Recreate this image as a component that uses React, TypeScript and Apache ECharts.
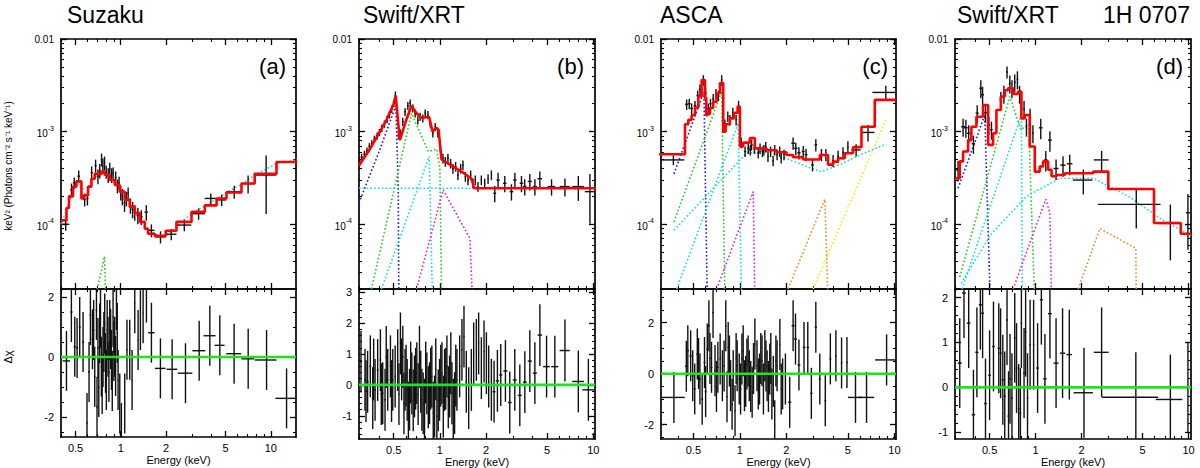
import React, { useEffect, useRef } from "react";
import * as echarts from "echarts";

const FONT = "'Liberation Sans', Arial, Helvetica, sans-serif";

// ---------- tick values ----------
const energyLabels = [0.5, 1, 2, 5, 10];
const energyMinor = [0.3, 0.4, 0.6, 0.7, 0.8, 0.9, 3, 4, 6, 7, 8, 9];
const fluxLabels = [1e-4, 1e-3, 1e-2];
const fluxMinor = [
  2e-5, 3e-5, 4e-5, 5e-5, 6e-5, 7e-5, 8e-5, 9e-5,
  2e-4, 3e-4, 4e-4, 5e-4, 6e-4, 7e-4, 8e-4, 9e-4,
  2e-3, 3e-3, 4e-3, 5e-3, 6e-3, 7e-3, 8e-3, 9e-3,
];
const aResLabels = [-2, 0, 2];
const aResMinor = [-2.5, -1.5, -1, -0.5, 0.5, 1, 1.5];
const bResLabels = [-1, 0, 1, 2, 3];
const bResMinor = [-1.6, -1.4, -1.2, -0.8, -0.6, -0.4, -0.2, 0.2, 0.4, 0.6, 0.8, 1.2, 1.4, 1.6, 1.8, 2.2, 2.4, 2.6, 2.8];
const cResLabels = [-2, 0, 2];
const cResMinor = [-2.5, -1.5, -1, -0.5, 0.5, 1, 1.5, 2.5, 3];
const dResLabels = [-1, 0, 1, 2];
const dResMinor = [-0.8, -0.6, -0.4, -0.2, 0.2, 0.4, 0.6, 0.8, 1.2, 1.4, 1.6, 1.8];

// ---------- (a) Suzaku ----------
const aEnergy = [0.43, 0.47, 0.49, 0.525, 0.575, 0.6, 0.64, 0.68, 0.705, 0.725, 0.745, 0.76, 0.78, 0.8, 0.825, 0.845, 0.87, 0.89, 0.925, 0.95, 0.975, 1.0, 1.025, 1.06, 1.09, 1.12, 1.16, 1.2, 1.24, 1.3, 1.37, 1.48, 1.6, 1.84, 2.17, 2.65, 3.3, 3.98, 4.7, 5.7, 7.05, 9.3];
const aHalfWidth = [0.025, 0.01, 0.01, 0.01, 0.01, 0.01, 0.01, 0.01, 0.008, 0.008, 0.008, 0.008, 0.008, 0.008, 0.01, 0.01, 0.01, 0.01, 0.012, 0.012, 0.012, 0.012, 0.012, 0.015, 0.015, 0.015, 0.015, 0.02, 0.02, 0.025, 0.03, 0.04, 0.08, 0.15, 0.18, 0.3, 0.33, 0.36, 0.35, 0.65, 0.7, 1.55];
const aFlux = [1.0e-4, 2.35e-4, 2.8e-4, 3.3e-4, 1.85e-4, 1.9e-4, 3.6e-4, 4.3e-4, 3.3e-4, 3.8e-4, 5.0e-4, 4.3e-4, 4.6e-4, 3.7e-4, 3.4e-4, 4.0e-4, 3.4e-4, 3.6e-4, 3.2e-4, 2.6e-4, 2.8e-4, 2.2e-4, 2.0e-4, 1.7e-4, 1.9e-4, 2.15e-4, 1.6e-4, 1.45e-4, 1.35e-4, 1.25e-4, 1.2e-4, 1.35e-4, 8.6e-5, 7.3e-5, 7.8e-5, 9.8e-5, 1.3e-4, 1.9e-4, 1.83e-4, 2.25e-4, 2.75e-4, 3.4e-4];
const aFluxRelErr = [0.15, 0.17, 0.14, 0.15, 0.16, 0.16, 0.17, 0.16, 0.18, 0.18, 0.16, 0.19, 0.17, 0.16, 0.18, 0.15, 0.18, 0.14, 0.16, 0.17, 0.16, 0.18, 0.2, 0.2, 0.18, 0.16, 0.19, 0.2, 0.19, 0.2, 0.18, 0.19, 0.16, 0.15, 0.14, 0.14, 0.14, 0.13, 0.14, 0.16, 0.22, 0.62];
const aModelEdges = [0.4, 0.435, 0.452, 0.481, 0.506, 0.547, 0.567, 0.606, 0.638, 0.671, 0.744, 0.782, 0.845, 0.912, 0.985, 1.063, 1.148, 1.24, 1.34, 1.446, 1.52, 1.685, 1.995, 2.35, 2.96, 3.63, 4.35, 5.06, 6.37, 7.8, 10.9, 15];
const aModelFlux = [1.1e-4, 1.5e-4, 2.0e-4, 2.55e-4, 2.9e-4, 1.9e-4, 2.05e-4, 2.55e-4, 3.1e-4, 3.5e-4, 3.7e-4, 3.4e-4, 3.0e-4, 2.65e-4, 2.25e-4, 1.83e-4, 1.55e-4, 1.32e-4, 1.06e-4, 8.95e-5, 7.9e-5, 7.5e-5, 8.5e-5, 1.06e-4, 1.36e-4, 1.6e-4, 1.9e-4, 2.2e-4, 2.75e-4, 3.5e-4, 4.7e-4];
const aCyan = [[0.4, 1.0e-4], [0.44, 1.5e-4], [0.48, 2.3e-4], [0.52, 2.8e-4], [0.55, 2.4e-4], [0.6, 2.4e-4], [0.65, 3.0e-4], [0.72, 3.5e-4], [0.78, 3.6e-4], [0.85, 3.2e-4], [0.95, 2.5e-4], [1.05, 2.0e-4], [1.2, 1.5e-4], [1.4, 1.05e-4], [1.6, 8.2e-5], [1.85, 7.4e-5], [2.1, 8.0e-5], [2.35, 9.5e-5], [2.96, 1.3e-4], [3.63, 1.58e-4], [4.35, 1.88e-4], [5.06, 2.2e-4], [6.37, 2.7e-4], [7.8, 3.4e-4], [10.9, 4.5e-4], [15, 5.0e-4]];
const aGreen = [[0.67, 1.5e-5], [0.78, 4.5e-5], [0.795, 1.5e-5]];
const aResEnergy = [0.435, 0.469, 0.494, 0.512, 0.533, 0.561, 0.596, 0.615, 0.628, 0.648, 0.66, 0.671, 0.689, 0.695, 0.705, 0.714, 0.724, 0.733, 0.743, 0.752, 0.762, 0.772, 0.782, 0.792, 0.802, 0.812, 0.823, 0.834, 0.845, 0.856, 0.867, 0.878, 0.889, 0.9, 0.912, 0.924, 0.936, 0.948, 0.96, 0.985, 1.01, 1.063, 1.1, 1.148, 1.19, 1.24, 1.305, 1.352, 1.409, 1.483, 1.601, 1.838, 2.199, 2.699, 3.33, 3.92, 4.57, 5.69, 7.06, 9.36, 12.72];
const aResHalfWidth = [0.025, 0.008, 0.008, 0.008, 0.008, 0.008, 0.008, 0.008, 0.008, 0.008, 0.008, 0.008, 0.008, 0.008, 0.008, 0.008, 0.008, 0.008, 0.008, 0.008, 0.008, 0.008, 0.008, 0.008, 0.008, 0.008, 0.008, 0.008, 0.008, 0.008, 0.008, 0.008, 0.008, 0.008, 0.008, 0.008, 0.008, 0.008, 0.008, 0.008, 0.008, 0.008, 0.008, 0.008, 0.008, 0.008, 0.008, 0.008, 0.008, 0.008, 0.08, 0.15, 0.18, 0.3, 0.33, 0.36, 0.35, 0.65, 0.7, 1.55, 2.0];
const aResidual = [-0.13, 1.5, 0.34, 0.3, 1.0, 0.5, -2.2, -0.5, 1.4, 0.59, 0.9, -0.66, 1.57, -1.66, 0.3, -1.0, 0.79, 1.3, -0.32, -0.9, 0.0, 0.5, 1.12, -0.2, -0.77, 0.9, 0.34, -0.5, 0.9, 0.6, -0.1, -0.8, 1.34, 0.2, 0.34, -0.3, 1.9, 0.8, -0.77, -1.55, -2.54, -1.55, 0.24, 0.24, -0.77, 1.79, 0.57, 1.23, 1.46, 2.15, 0.81, -0.38, -0.41, -0.54, 0.21, 0.71, 0.39, 0.11, -0.06, -0.1, -1.38];

// ---------- (b) Swift/XRT ----------
const bEnergy = [0.2985, 0.309, 0.322, 0.335, 0.347, 0.36, 0.374, 0.39, 0.403, 0.418, 0.435, 0.453, 0.469, 0.485, 0.5, 0.513, 0.537, 0.553, 0.573, 0.593, 0.618, 0.64, 0.666, 0.69, 0.718, 0.743, 0.774, 0.802, 0.835, 0.865, 0.9, 0.932, 0.97, 1.005, 1.046, 1.084, 1.128, 1.174, 1.216, 1.266, 1.311, 1.365, 1.413, 1.465, 1.524, 1.586, 1.644, 1.7, 1.77, 1.862, 1.958, 2.06, 2.165, 2.277, 2.394, 2.647, 2.926, 3.08, 3.4, 3.57, 3.855, 4.16, 4.48, 5.34, 6.53, 7.98, 9.5];
const bHalfWidth = [0.005, 0.005, 0.005, 0.005, 0.005, 0.005, 0.005, 0.005, 0.005, 0.005, 0.005, 0.005, 0.005, 0.005, 0.005, 0.005, 0.008, 0.008, 0.008, 0.008, 0.008, 0.008, 0.008, 0.008, 0.008, 0.008, 0.008, 0.008, 0.008, 0.008, 0.008, 0.008, 0.008, 0.015, 0.015, 0.015, 0.015, 0.015, 0.015, 0.015, 0.015, 0.015, 0.015, 0.015, 0.015, 0.015, 0.015, 0.015, 0.015, 0.015, 0.015, 0.015, 0.015, 0.05, 0.06, 0.07, 0.08, 0.08, 0.09, 0.1, 0.12, 0.13, 0.15, 0.3, 0.5, 0.7, 0.7];
const bFlux = [4.9e-4, 5.3e-4, 5.7e-4, 6.2e-4, 6.9e-4, 7.4e-4, 8.3e-4, 9.0e-4, 9.8e-4, 1.09e-3, 1.21e-3, 1.36e-3, 1.52e-3, 1.75e-3, 2.02e-3, 2.49e-3, 9.2e-4, 9.6e-4, 1.28e-3, 1.64e-3, 1.9e-3, 2.02e-3, 1.79e-3, 1.58e-3, 1.33e-3, 1.45e-3, 1.39e-3, 1.58e-3, 1.52e-3, 1.23e-3, 9.6e-4, 1.13e-3, 9.6e-4, 6.9e-4, 5.15e-4, 4.74e-4, 5.15e-4, 4.55e-4, 4.0e-4, 4.2e-4, 3.4e-4, 4.0e-4, 4.35e-4, 3.27e-4, 3.0e-4, 3.4e-4, 2.77e-4, 3.0e-4, 2.55e-4, 3.0e-4, 2.77e-4, 3.1e-4, 3.4e-4, 2.16e-4, 3.0e-4, 2.77e-4, 2.25e-4, 3.0e-4, 2.77e-4, 2.55e-4, 2.9e-4, 2.55e-4, 3.1e-4, 2.55e-4, 2.55e-4, 2.55e-4, 2.25e-4];
const bFluxRelErr = [0.09, 0.09, 0.09, 0.09, 0.09, 0.09, 0.09, 0.09, 0.09, 0.09, 0.09, 0.09, 0.09, 0.09, 0.09, 0.09, 0.1, 0.1, 0.1, 0.1, 0.1, 0.1, 0.1, 0.1, 0.1, 0.1, 0.1, 0.1, 0.1, 0.1, 0.1, 0.1, 0.1, 0.12, 0.12, 0.12, 0.12, 0.12, 0.12, 0.12, 0.12, 0.12, 0.12, 0.12, 0.12, 0.12, 0.12, 0.12, 0.12, 0.12, 0.12, 0.12, 0.12, 0.2, 0.2, 0.2, 0.2, 0.2, 0.2, 0.2, 0.2, 0.2, 0.2, 0.2, 0.22, 0.3, 0.55];
const bModel = [[0.297, 4.3e-4], [0.35, 6.5e-4], [0.4, 9.5e-4], [0.45, 1.35e-3], [0.5, 2.0e-3], [0.515, 2.45e-3], [0.548, 8.1e-4], [0.6, 1.3e-3], [0.653, 1.9e-3], [0.7, 1.6e-3], [0.76, 1.4e-3], [0.85, 1.45e-3], [0.895, 1.0e-3], [0.95, 1.1e-3], [0.98, 1.05e-3], [1.025, 5.0e-4], [1.22, 4.2e-4], [1.42, 3.6e-4], [1.61, 3.1e-4], [1.67, 2.45e-4], [10.3, 2.45e-4]];
const bBlue = [[0.297, 1.7e-4], [0.4, 6.0e-4], [0.516, 1.9e-3], [0.535, 2.5e-4], [0.54, 1.5e-5]];
const bGreen = [[0.358, 2e-5], [0.653, 1.58e-3], [0.84, 6.1e-4], [0.95, 6.5e-4], [1.0, 4e-4], [1.026, 1.5e-5]];
const bCyanFlat = [[0.297, 2.45e-4], [10.3, 2.45e-4]];
const bCyanLine = [[0.416, 2e-5], [0.852, 5.4e-4], [0.895, 1.5e-5]];
const bMagenta = [[0.705, 2e-5], [1.05, 2.35e-4], [1.57, 7e-5], [1.63, 1.5e-5]];
const bResEnergy = [0.306, 0.325, 0.33, 0.338, 0.352, 0.365, 0.37, 0.378, 0.393, 0.4095, 0.415, 0.424, 0.439, 0.447, 0.457, 0.476, 0.484, 0.493, 0.511, 0.531, 0.541, 0.553, 0.563, 0.573, 0.583, 0.593, 0.602, 0.612, 0.623, 0.634, 0.645, 0.656, 0.67, 0.683, 0.695, 0.707, 0.721, 0.736, 0.75, 0.763, 0.778, 0.794, 0.808, 0.822, 0.84, 0.856, 0.871, 0.886, 0.905, 0.923, 0.94, 0.956, 0.975, 0.995, 1.013, 1.031, 1.052, 1.073, 1.092, 1.111, 1.134, 1.157, 1.178, 1.198, 1.222, 1.247, 1.269, 1.291, 1.345, 1.392, 1.435, 1.486, 1.54, 1.603, 1.66, 1.728, 1.789, 1.863, 1.939, 2.009, 2.08, 2.165, 2.254, 2.37, 2.492, 2.673, 2.853, 3.076, 3.317, 3.576, 3.855, 4.157, 4.482, 4.955, 5.61, 6.53, 7.98, 9.28];
const bResHalfWidth = [0.005, 0.005, 0.005, 0.005, 0.005, 0.005, 0.005, 0.005, 0.005, 0.005, 0.005, 0.005, 0.005, 0.005, 0.005, 0.005, 0.005, 0.005, 0.005, 0.005, 0.005, 0.005, 0.007, 0.007, 0.007, 0.007, 0.007, 0.007, 0.007, 0.007, 0.007, 0.007, 0.007, 0.007, 0.007, 0.007, 0.007, 0.007, 0.007, 0.007, 0.007, 0.007, 0.007, 0.007, 0.007, 0.007, 0.007, 0.007, 0.007, 0.007, 0.007, 0.007, 0.007, 0.007, 0.007, 0.012, 0.012, 0.012, 0.012, 0.012, 0.012, 0.012, 0.012, 0.012, 0.012, 0.012, 0.012, 0.012, 0.014, 0.014, 0.014, 0.014, 0.014, 0.014, 0.014, 0.014, 0.014, 0.014, 0.014, 0.014, 0.014, 0.014, 0.05, 0.06, 0.06, 0.08, 0.08, 0.09, 0.1, 0.1, 0.12, 0.13, 0.15, 0.25, 0.3, 0.5, 0.7, 0.8];
const bResidual = [0.75, 0.16, -0.2, 0.1, 0.6, -0.43, 0.5, -0.16, 0.48, 0.8, -0.3, -0.27, -0.48, 0.9, 0.16, 0.6, -0.2, 0.16, 0.27, 0.8, -0.3, 1.34, 0.5, 0.91, -0.6, 0.16, 0.3, -0.16, -0.9, -0.48, 0.4, 0.05, -0.5, -0.05, 0.2, 0.38, -0.3, 0.91, 0.1, -0.48, -0.6, -0.8, 0.4, 0.05, -0.4, -0.27, 0.2, 0.27, -0.9, -0.7, 0.5, -1.02, -0.5, -0.16, 0.3, 0.38, -0.7, 0.16, 0.2, 0.6, -0.4, -0.05, 0.7, -0.27, -0.8, -0.59, 0.3, 0.16, 0.6, 1.13, 1.56, 0.1, -0.43, 0.16, 1.02, 1.13, 1.34, 0.54, 1.08, 0.7, 0.27, -0.16, -0.22, 0.13, 0.32, 0.45, -0.57, 0.16, -0.34, 0.09, 0.77, 0.38, 1.61, 0.59, 0.59, 1.11, 0.11, -0.16];

// ---------- (c) ASCA ----------
const cEnergy = [0.371, 0.452, 0.47, 0.487, 0.512, 0.533, 0.551, 0.58, 0.6, 0.624, 0.645, 0.672, 0.7, 0.725, 0.762, 0.8, 0.835, 0.862, 0.9, 0.945, 0.98, 1.02, 1.08, 1.132, 1.167, 1.19, 1.24, 1.314, 1.35, 1.4, 1.43, 1.47, 1.52, 1.58, 1.64, 1.68, 1.74, 1.81, 1.85, 1.93, 2.21, 2.3, 2.41, 2.57, 2.68, 2.95, 3.1, 3.37, 3.6, 4.01, 4.32, 4.65, 5.0, 5.65, 6.75, 8.8];
const cHalfWidth = [0.066, 0.01, 0.01, 0.01, 0.01, 0.01, 0.01, 0.01, 0.01, 0.01, 0.01, 0.01, 0.01, 0.01, 0.01, 0.01, 0.01, 0.01, 0.01, 0.01, 0.01, 0.018, 0.018, 0.018, 0.018, 0.018, 0.018, 0.018, 0.018, 0.018, 0.018, 0.018, 0.018, 0.018, 0.018, 0.018, 0.018, 0.018, 0.018, 0.018, 0.06, 0.06, 0.06, 0.06, 0.06, 0.06, 0.06, 0.06, 0.06, 0.06, 0.06, 0.06, 0.06, 0.4, 0.67, 1.6];
const cFlux = [4.95e-4, 1.97e-3, 2.0e-3, 1.78e-3, 1.9e-3, 2.45e-3, 2.85e-3, 3.6e-3, 2.6e-3, 1.78e-3, 2.0e-3, 2.25e-3, 2.55e-3, 2.45e-3, 3.6e-3, 1.2e-3, 1.46e-3, 1.34e-3, 1.6e-3, 1.34e-3, 1.9e-3, 7.6e-4, 6.1e-4, 6.6e-4, 6.35e-4, 7.2e-4, 6.6e-4, 5.9e-4, 6.6e-4, 6.1e-4, 6.35e-4, 6.85e-4, 5.4e-4, 6.1e-4, 4.85e-4, 6.35e-4, 5.65e-4, 6.1e-4, 5.2e-4, 5.65e-4, 7.5e-4, 6.6e-4, 5.9e-4, 6.1e-4, 5.65e-4, 4.37e-4, 7.2e-4, 5.65e-4, 5.65e-4, 4.85e-4, 5.4e-4, 5.9e-4, 6.85e-4, 6.35e-4, 9.8e-4, 2.65e-3];
const cFluxRelErr = [0.12, 0.13, 0.13, 0.13, 0.13, 0.13, 0.13, 0.13, 0.13, 0.13, 0.13, 0.13, 0.13, 0.13, 0.13, 0.13, 0.13, 0.13, 0.13, 0.13, 0.13, 0.13, 0.13, 0.13, 0.13, 0.13, 0.13, 0.13, 0.13, 0.13, 0.13, 0.13, 0.13, 0.13, 0.13, 0.13, 0.13, 0.13, 0.13, 0.13, 0.15, 0.15, 0.15, 0.15, 0.15, 0.15, 0.15, 0.15, 0.15, 0.15, 0.15, 0.15, 0.15, 0.15, 0.2, 0.18];
const cModelEdges = [0.3, 0.441, 0.4635, 0.487, 0.512, 0.538, 0.565, 0.594, 0.606, 0.618, 0.64, 0.672, 0.707, 0.743, 0.78, 0.808, 0.862, 0.915, 0.966, 1.0, 1.051, 1.16, 1.25, 1.314, 1.5, 1.73, 2.0, 2.21, 2.57, 2.98, 3.29, 3.72, 4.01, 4.32, 4.77, 5.4, 6.12, 7.46, 10.3];
const cModelFlux = [5.7e-4, 1.2e-3, 1.34e-3, 1.51e-3, 1.82e-3, 2.4e-3, 3.6e-3, 2.3e-3, 1.5e-3, 1.55e-3, 1.8e-3, 2.1e-3, 2.6e-3, 3.35e-3, 1.0e-3, 1.2e-3, 1.39e-3, 1.6e-3, 1.86e-3, 6.9e-4, 7.6e-4, 8.5e-4, 6.6e-4, 6.5e-4, 6.3e-4, 6.0e-4, 5.6e-4, 5.3e-4, 5.0e-4, 5.0e-4, 5.6e-4, 4.4e-4, 4.75e-4, 5.15e-4, 5.85e-4, 6.8e-4, 1.13e-3, 2.2e-3];
const cBlue = [[0.374, 3.5e-4], [0.585, 2.7e-3], [0.615, 1.5e-5]];
const cGreen = [[0.374, 1.06e-4], [0.762, 2.7e-3], [0.8, 1.5e-5]];
const cCyanCont = [[0.374, 8.6e-5], [1.104, 5.85e-4], [1.486, 6.1e-4], [2.0, 5.15e-4], [2.7, 4.2e-4], [3.37, 3.7e-4], [4.43, 4.4e-4], [5.97, 5.6e-4], [8.87, 7.35e-4]];
const cCyanLine = [[0.39, 2e-5], [0.975, 1.23e-3], [1.025, 1.5e-5]];
const cMagenta = [[0.707, 2e-5], [1.22, 2.25e-4], [1.25, 1.5e-5]];
const cOrange = [[2.05, 2e-5], [3.545, 1.86e-4], [3.72, 1.5e-5]];
const cYellow = [[2.98, 2e-5], [8.87, 1.39e-3]];
const cResEnergy = [0.374, 0.45, 0.46, 0.48, 0.495, 0.51, 0.53, 0.54, 0.551, 0.57, 0.59, 0.6, 0.615, 0.63, 0.64, 0.655, 0.67, 0.69, 0.705, 0.72, 0.745, 0.77, 0.79, 0.81, 0.825, 0.84, 0.855, 0.87, 0.89, 0.905, 0.93, 0.945, 0.96, 0.99, 1.01, 1.03, 1.05, 1.07, 1.09, 1.11, 1.13, 1.15, 1.175, 1.2, 1.225, 1.25, 1.29, 1.315, 1.34, 1.365, 1.39, 1.42, 1.45, 1.475, 1.5, 1.53, 1.56, 1.585, 1.61, 1.645, 1.68, 1.71, 1.74, 1.814, 1.85, 1.89, 1.97, 2.1, 2.21, 2.29, 2.41, 2.6, 2.75, 2.9, 3.1, 3.29, 3.57, 3.85, 4.18, 4.55, 4.93, 5.6, 6.6, 8.9];
const cResHalfWidth = [0.066, 0.008, 0.008, 0.008, 0.008, 0.008, 0.008, 0.008, 0.008, 0.008, 0.008, 0.008, 0.008, 0.008, 0.008, 0.008, 0.008, 0.008, 0.008, 0.008, 0.008, 0.008, 0.008, 0.008, 0.008, 0.008, 0.008, 0.008, 0.008, 0.008, 0.008, 0.008, 0.008, 0.008, 0.012, 0.012, 0.012, 0.012, 0.012, 0.012, 0.012, 0.012, 0.012, 0.012, 0.012, 0.012, 0.012, 0.012, 0.012, 0.012, 0.012, 0.012, 0.012, 0.012, 0.012, 0.012, 0.012, 0.012, 0.012, 0.012, 0.012, 0.012, 0.012, 0.012, 0.012, 0.012, 0.012, 0.05, 0.05, 0.05, 0.05, 0.05, 0.05, 0.05, 0.05, 0.05, 0.05, 0.05, 0.05, 0.05, 0.05, 0.6, 0.8, 1.4];
const cResidual = [-0.93, 0.29, 0.9, 0.7, -0.08, -0.6, 0.77, 0.4, -0.21, -1.0, 0.44, -0.7, 0.97, 1.88, 0.6, 0.25, 2.4, 0.12, -0.5, 0.25, 0.58, -0.08, 0.3, 1.88, -0.9, 1.03, 0.5, -0.47, -1.2, -0.08, -1.45, 0.6, 0.31, -0.21, -0.6, 0.58, 0.9, -0.47, -0.3, 0.38, 0.5, -0.08, -0.5, -0.73, 0.2, 1.16, 0.31, -0.4, -0.21, 0.6, 0.51, -0.6, 0.7, 0.3, -0.08, -0.5, 0.18, 0.6, -0.8, -0.3, -2.04, 0.5, 0.31, 1.14, -0.6, -0.4, -0.21, -1.12, 1.88, 1.36, 0.34, 1.03, 1.03, -0.77, 1.82, -0.21, -1.06, 0.58, 0.7, 0.42, 0.44, -0.93, -0.93, 0.54];

// ---------- (d) Swift/XRT, 1H 0707 ----------
const dEnergy = [0.311, 0.3355, 0.35, 0.365, 0.392, 0.415, 0.438, 0.45, 0.47, 0.494, 0.514, 0.592, 0.62, 0.65, 0.678, 0.7, 0.73, 0.76, 0.785, 0.807, 0.84, 0.871, 0.92, 0.96, 1.08, 1.165, 1.24, 1.36, 1.51, 1.67, 2.05, 2.7, 4.55, 7.6, 9.9];
const dHalfWidth = [0.01, 0.01, 0.01, 0.01, 0.01, 0.01, 0.01, 0.01, 0.01, 0.01, 0.01, 0.01, 0.01, 0.01, 0.01, 0.01, 0.01, 0.01, 0.01, 0.01, 0.01, 0.01, 0.01, 0.01, 0.03, 0.03, 0.035, 0.05, 0.06, 0.07, 0.3, 0.3, 2.0, 1.3, 0.3];
const dFlux = [3.87e-4, 1.13e-3, 1.1e-3, 9.6e-4, 7.4e-4, 1.58e-3, 2.94e-3, 2.5e-3, 1.6e-3, 1.18e-3, 1.05e-3, 2.2e-3, 2.56e-3, 4.4e-3, 3.3e-3, 2.94e-3, 3.4e-3, 3.67e-3, 2.56e-3, 2.2e-3, 1.75e-3, 1.13e-3, 1.45e-3, 9.6e-4, 1.1e-3, 4.95e-4, 8.1e-4, 4.0e-4, 4.35e-4, 4.5e-4, 3.0e-4, 4.95e-4, 1.64e-4, 1.02e-4, 1.33e-4];
const dFluxRelErr = [0.25, 0.22, 0.22, 0.22, 0.22, 0.22, 0.22, 0.22, 0.22, 0.22, 0.22, 0.22, 0.22, 0.15, 0.22, 0.22, 0.22, 0.22, 0.22, 0.22, 0.22, 0.22, 0.22, 0.22, 0.25, 0.25, 0.25, 0.25, 0.25, 0.25, 0.3, 0.25, 0.45, 0.6, 0.6];
const dModelEdges = [0.297, 0.319, 0.3355, 0.3617, 0.38, 0.41, 0.453, 0.489, 0.527, 0.554, 0.592, 0.628, 0.66, 0.712, 0.768, 0.807, 0.849, 0.915, 0.987, 1.064, 1.12, 1.207, 1.27, 1.369, 1.552, 2.38, 2.985, 5.94, 8.89, 10.4];
const dModelFlux = [3.14e-4, 4.77e-4, 6.1e-4, 8.1e-4, 1.13e-3, 1.45e-3, 1.94e-3, 7.2e-4, 9.6e-4, 1.71e-3, 2.39e-3, 2.8e-3, 2.94e-3, 2.55e-3, 2.7e-3, 1.39e-3, 1.51e-3, 6.9e-4, 3.7e-4, 4.2e-4, 4.77e-4, 3.87e-4, 3.3e-4, 3.4e-4, 3.56e-4, 3.7e-4, 2.4e-4, 1.03e-4, 7.9e-5];
const dBlue = [[0.311, 2.45e-4], [0.465, 1.51e-3], [0.505, 1.5e-5]];
const dGreen = [[0.319, 2.7e-5], [0.678, 2.4e-3], [0.8, 1.05e-3], [0.9, 1.2e-3], [0.985, 1.5e-5]];
const dCyanCont = [[0.326, 2.3e-5], [0.514, 7.9e-5], [0.871, 2.0e-4], [1.44, 3.14e-4], [2.38, 3.14e-4], [4.05, 2.0e-4], [6.7, 1.12e-4], [10.4, 7.5e-5]];
const dCyanLine = [[0.33, 2e-5], [0.807, 1.51e-3], [0.818, 1.5e-5]];
const dMagenta = [[0.712, 2e-5], [1.165, 1.86e-4], [1.24, 1.32e-4], [1.27, 1.5e-5]];
const dOrange = [[1.897, 2e-5], [2.63, 9.0e-5], [4.52, 5.5e-5], [4.55, 1.5e-5]];
const dResEnergy = [0.319, 0.34, 0.365, 0.392, 0.413, 0.435, 0.45, 0.47, 0.5, 0.53, 0.574, 0.59, 0.61, 0.628, 0.65, 0.665, 0.68, 0.7, 0.73, 0.75, 0.775, 0.795, 0.807, 0.84, 0.86, 0.885, 0.92, 0.97, 1.03, 1.09, 1.15, 1.24, 1.36, 1.5, 1.66, 2.07, 2.7, 4.52, 7.6, 9.9];
const dResHalfWidth = [0.01, 0.01, 0.01, 0.01, 0.01, 0.01, 0.01, 0.01, 0.01, 0.01, 0.01, 0.01, 0.01, 0.01, 0.01, 0.01, 0.01, 0.01, 0.01, 0.01, 0.01, 0.01, 0.01, 0.01, 0.01, 0.01, 0.01, 0.01, 0.02, 0.025, 0.03, 0.035, 0.05, 0.06, 0.07, 0.3, 0.3, 1.8, 1.5, 0.3];
const dResidual = [0.54, 2.1, 1.43, -0.61, 0.78, 1.84, 1.65, -0.36, 0.27, 0.91, 0.87, 0.76, 0.17, -0.2, 1.5, -0.64, 0.19, -0.24, 1.1, 0.43, -0.48, -0.57, 1.43, 0.32, 1.24, -0.24, 0.95, 0.95, 0.43, 1.95, 0.19, 1.64, 0.54, 0.76, 0.73, -0.12, 0.78, -0.22, -0.27, 0.0];

// ---------- colours ----------
const BLUE = "#1a1ad0";
const GREEN = "#22cc22";
const CYAN = "#10dede";
const MAGENTA = "#e020e0";
const ORANGE = "#f08a20";
const YELLOW = "#eeee10";

const panels = [
  {
    title: "Suzaku", titleX: 67, tag: "(a)", tagX: 286,
    left: 61, width: 235, resHeight: 148,
    xMin: 0.4, xMax: 14.7, resMin: -2.67, resMax: 2.27, resLabels: aResLabels, resMinor: aResMinor,
    energy: aEnergy, halfWidth: aHalfWidth, flux: aFlux, relErr: aFluxRelErr,
    resEnergy: aResEnergy, resHalfWidth: aResHalfWidth, residual: aResidual,
    modelEdges: aModelEdges, modelFlux: aModelFlux, modelLine: null as number[][] | null,
    components: [{ c: CYAN, p: aCyan }, { c: GREEN, p: aGreen }],
  },
  {
    title: "Swift/XRT", titleX: 363, tag: "(b)", tagX: 584,
    left: 359, width: 236, resHeight: 150,
    xMin: 0.297, xMax: 10.25, resMin: -1.75, resMax: 3.1, resLabels: bResLabels, resMinor: bResMinor,
    energy: bEnergy, halfWidth: bHalfWidth, flux: bFlux, relErr: bFluxRelErr,
    resEnergy: bResEnergy, resHalfWidth: bResHalfWidth, residual: bResidual,
    modelEdges: null as number[] | null, modelFlux: null as number[] | null, modelLine: bModel,
    components: [{ c: BLUE, p: bBlue }, { c: GREEN, p: bGreen }, { c: CYAN, p: bCyanFlat }, { c: CYAN, p: bCyanLine }, { c: MAGENTA, p: bMagenta }],
  },
  {
    title: "ASCA", titleX: 660, tag: "(c)", tagX: 888,
    left: 661, width: 235, resHeight: 151,
    xMin: 0.3085, xMax: 10.24, resMin: -2.56, resMax: 3.32, resLabels: cResLabels, resMinor: cResMinor,
    energy: cEnergy, halfWidth: cHalfWidth, flux: cFlux, relErr: cFluxRelErr,
    resEnergy: cResEnergy, resHalfWidth: cResHalfWidth, residual: cResidual,
    modelEdges: cModelEdges, modelFlux: cModelFlux, modelLine: null,
    components: [{ c: BLUE, p: cBlue }, { c: GREEN, p: cGreen }, { c: CYAN, p: cCyanCont }, { c: CYAN, p: cCyanLine }, { c: MAGENTA, p: cMagenta }, { c: ORANGE, p: cOrange }, { c: YELLOW, p: cYellow }],
  },
  {
    title: "Swift/XRT", titleX: 957, tag: "(d)", tagX: 1183,
    left: 955, width: 236, resHeight: 150,
    xMin: 0.297, xMax: 10.37, resMin: -1.15, resMax: 2.19, resLabels: dResLabels, resMinor: dResMinor,
    energy: dEnergy, halfWidth: dHalfWidth, flux: dFlux, relErr: dFluxRelErr,
    resEnergy: dResEnergy, resHalfWidth: dResHalfWidth, residual: dResidual,
    modelEdges: dModelEdges, modelFlux: dModelFlux, modelLine: null,
    components: [{ c: BLUE, p: dBlue }, { c: GREEN, p: dGreen }, { c: CYAN, p: dCyanCont }, { c: CYAN, p: dCyanLine }, { c: MAGENTA, p: dMagenta }, { c: ORANGE, p: dOrange }],
  },
];

const TOP = 39;
const TOP_H = 250;
const FLUX_MIN = 2e-5;
const FLUX_MAX = 1e-2;
const lg = Math.log10;

const renderCross = (_params: any, api: any) => {
  const a = api.coord([api.value(0), api.value(3)]);
  const b = api.coord([api.value(1), api.value(3)]);
  const lo = api.coord([api.value(2), api.value(4)]);
  const hi = api.coord([api.value(2), api.value(5)]);
  const style = { stroke: "#111", lineWidth: 1.4 };
  return {
    type: "group",
    children: [
      { type: "line", shape: { x1: a[0], y1: a[1], x2: b[0], y2: b[1] }, style },
      { type: "line", shape: { x1: lo[0], y1: lo[1], x2: hi[0], y2: hi[1] }, style },
    ],
  };
};

function axisSet(
  dim: "x" | "y",
  gridIndex: number,
  min: number,
  max: number,
  majors: number[],
  minors: number[],
  label: any,
  extra: any
) {
  const sides = dim === "x" ? ["bottom", "top"] : ["left", "right"];
  const out: any[] = [];
  sides.forEach((pos, k) => {
    const base = { type: "value", gridIndex, min, max, position: pos, splitLine: { show: false } };
    out.push({
      ...base,
      axisLine: { show: true, onZero: false, lineStyle: { color: "#000", width: 1.7 } },
      axisTick: { show: true, inside: true, length: 6, customValues: majors, lineStyle: { color: "#000", width: 1.3 } },
      axisLabel: k === 0 && label ? { show: true, customValues: majors, ...label } : { show: false },
      ...(k === 0 && extra ? extra : {}),
    });
    out.push({
      ...base,
      axisLine: { show: false, onZero: false },
      axisTick: { show: true, inside: true, length: 3, customValues: minors, lineStyle: { color: "#000", width: 1.1 } },
      axisLabel: { show: false },
    });
  });
  return out;
}

const energyFormatter = (v: number) => {
  const e = Math.pow(10, v);
  return e >= 1 ? String(Math.round(e)) : String(Math.round(e * 10) / 10);
};
const fluxFormatter = (v: number) => {
  const p = Math.round(v);
  return p === -2 ? "0.01" : `{b|10}{s|${p}}`;
};
const residualFormatter = (v: number) => String(Math.round(v * 10) / 10);

function buildOption() {
  const grid: any[] = [];
  const xAxis: any[] = [];
  const yAxis: any[] = [];
  const series: any[] = [];

  const xLabel = { formatter: energyFormatter, color: "#000", fontSize: 11, fontFamily: FONT, margin: 5 };
  const fluxLabel = {
    formatter: fluxFormatter, color: "#000", fontFamily: FONT, fontSize: 10, margin: 7,
    rich: {
      b: { fontSize: 10, fontFamily: FONT, color: "#000", lineHeight: 14, verticalAlign: "bottom" },
      s: { fontSize: 7, fontFamily: FONT, color: "#000", lineHeight: 14, verticalAlign: "top" },
    },
  };
  const resLabel = { formatter: residualFormatter, color: "#000", fontSize: 11, fontFamily: FONT, margin: 7 };

  panels.forEach((p, i) => {
    const gTop = 2 * i;
    const gRes = 2 * i + 1;
    grid.push({ left: p.left, top: TOP, width: p.width, height: TOP_H });
    grid.push({ left: p.left, top: TOP + TOP_H, width: p.width, height: p.resHeight });

    const xmin = lg(p.xMin);
    const xmax = lg(p.xMax);
    const eMaj = energyLabels.map(lg);
    const eMin = energyMinor.map(lg);

    xAxis.push(...axisSet("x", gTop, xmin, xmax, eMaj, eMin, null, null));
    yAxis.push(...axisSet("y", gTop, lg(FLUX_MIN), lg(FLUX_MAX), fluxLabels.map(lg), fluxMinor.map(lg), fluxLabel, null));
    xAxis.push(
      ...axisSet("x", gRes, xmin, xmax, eMaj, eMin, xLabel, {
        name: "Energy (keV)",
        nameLocation: "middle",
        nameGap: 17,
        nameTextStyle: { color: "#000", fontSize: 11, fontFamily: FONT },
      })
    );
    yAxis.push(...axisSet("y", gRes, p.resMin, p.resMax, p.resLabels, p.resMinor, resLabel, null));

    const ax = { xAxisIndex: 4 * gTop, yAxisIndex: 4 * gTop };
    const axR = { xAxisIndex: 4 * gRes, yAxisIndex: 4 * gRes };

    // model components (dotted)
    p.components.forEach((comp) => {
      series.push({
        type: "line", ...ax, silent: true, symbol: "none", clip: true, z: 2,
        data: comp.p.map(([e, f]) => [lg(e), lg(f)]),
        lineStyle: { color: comp.c, width: 1.6, type: [1.6, 2.2] },
      });
    });

    // data points with error bars
    series.push({
      type: "custom", ...ax, silent: true, clip: true, z: 3,
      renderItem: renderCross,
      data: p.energy.map((e, k) => {
        const f = p.flux[k];
        const r = p.relErr[k];
        return [lg(e - p.halfWidth[k]), lg(e + p.halfWidth[k]), lg(e), lg(f), lg(Math.max(f * (1 - r), 1e-9)), lg(f * (1 + r))];
      }),
    });

    // total model (red)
    let modelPts: number[][] = [];
    if (p.modelEdges && p.modelFlux) {
      const edges = p.modelEdges;
      p.modelFlux.forEach((f, k) => {
        modelPts.push([lg(edges[k]), lg(f)], [lg(edges[k + 1]), lg(f)]);
      });
    } else if (p.modelLine) {
      modelPts = p.modelLine.map(([e, f]) => [lg(e), lg(f)]);
    }
    series.push({
      type: "line", ...ax, silent: true, symbol: "none", clip: true, z: 4,
      data: modelPts,
      lineStyle: { color: "#ff0000", width: 2.6 },
    });

    // residuals
    series.push({
      type: "custom", ...axR, silent: true, clip: true, z: 3,
      renderItem: renderCross,
      data: p.resEnergy.map((e, k) => {
        const r = p.residual[k];
        return [lg(e - p.resHalfWidth[k]), lg(e + p.resHalfWidth[k]), lg(e), r, r - 1, r + 1];
      }),
    });
    series.push({
      type: "line", ...axR, silent: true, symbol: "none", clip: true, z: 5,
      data: [[xmin, 0], [xmax, 0]],
      lineStyle: { color: "#22e022", width: 2.6 },
    });
  });

  const textStyle = (text: string, size: number, align: string) => ({
    text, font: `${size}px ${FONT}`, fill: "#000",
    align, verticalAlign: "middle", textAlign: align, textVerticalAlign: "middle",
  });

  const graphic: any[] = [];
  panels.forEach((p) => {
    graphic.push({ type: "text", x: p.titleX, y: 15, style: textStyle(p.title, 23, "left") });
    graphic.push({ type: "text", x: p.tagX, y: 66, style: textStyle(p.tag, 22, "right") });
  });
  graphic.push({ type: "text", x: 1103, y: 15, style: textStyle("1H 0707", 23, "left") });
  graphic.push({
    type: "text", x: 8, y: 166, rotation: Math.PI / 2,
    style: textStyle("keV\u00b2 (Photons cm\u207b\u00b2 s\u207b\u00b9 keV\u207b\u00b9)", 10, "center"),
  });
  graphic.push({ type: "text", x: 8, y: 357, rotation: Math.PI / 2, style: textStyle("\u0394\u03c7", 11, "center") });

  return {
    animation: false,
    backgroundColor: "#fff",
    grid,
    xAxis,
    yAxis,
    series,
    graphic,
  };
}

export default function App() {
  const ref = useRef<HTMLDivElement>(null);

  useEffect(() => {
    if (!ref.current) return;
    const chart = echarts.init(ref.current, undefined, { renderer: "svg" });
    chart.setOption(buildOption() as any);
    return () => {
      chart.dispose();
    };
  }, []);

  return (
    <div
      ref={ref}
      style={{ position: "fixed", left: 0, top: 0, width: 1200, height: 468, background: "#fff" }}
    />
  );
}
